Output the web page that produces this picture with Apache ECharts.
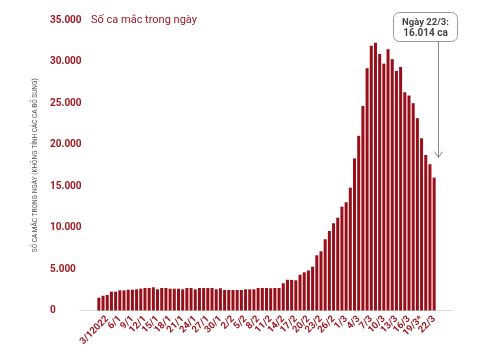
<!DOCTYPE html>
<html><head><meta charset="utf-8">
<script src="https://cdn.jsdelivr.net/npm/echarts@6/dist/echarts.min.js"></script>
<style>html,body{margin:0;padding:0;background:#fff}#c{width:478px;height:355px}</style>
</head><body><div id="c"></div>
<script>
const categories = [
 "1/1","2/1","3/12022","4/1","5/1","6/1","7/1","8/1","9/1","10/1",
 "11/1","12/1","13/1","14/1","15/1","16/1","17/1","18/1","19/1","20/1",
 "21/1","22/1","23/1","24/1","25/1","26/1","27/1","28/1","29/1","30/1","31/1",
 "1/2","2/2","3/2","4/2","5/2","6/2","7/2","8/2","9/2","10/2",
 "11/2","12/2","13/2","14/2","15/2","16/2","17/2","18/2","19/2","20/2",
 "21/2","22/2","23/2","24/2","25/2","26/2","27/2","28/2",
 "1/3","2/3","3/3","4/3","5/3","6/3","7/3","8/3","9/3","10/3",
 "11/3","12/3","13/3","14/3","15/3","16/3","17/3","18/3","19/3*","20/3","21/3","22/3"
];
const cases = [
 1540,1780,1870,2270,2270,2430,2430,2510,2510,2550,
 2630,2710,2710,2800,2550,2710,2710,2630,2630,2630,
 2550,2710,2710,2550,2710,2710,2710,2710,2550,2680,
 2470,2470,2470,2470,2470,2550,2550,2550,2710,2710,
 2710,2680,2710,2710,3280,3710,3680,3640,4310,4600,
 4820,5280,6650,7130,8580,9580,10510,11180,12510,13040,
 14800,18320,21050,24640,29190,31910,32260,30910,29740,31470,
 30290,28860,29340,26290,25900,24970,23170,20750,18740,17620,
 16014
];
const titleText = 'Số ca mắc trong ngày';
const yAxisName = 'SỐ CA MẮC TRONG NGÀY (KHÔNG TÍNH CÁC CA BỔ SUNG)';
const noteLines = ['Ngày 22/3:', '16.014 ca'];
const yMin = 0, yMax = 35000, yStep = 5000;
const firstLabel = 2, labelStep = 3;

const red = '#980f19', textRed = '#9e1b22';
const fmt = v => String(v).replace(/\B(?=(\d{3})+(?!\d))/g, '.');
const labelStyle = {rotate: 45, hideOverlap: false,
  color: textRed, fontSize: 9.5, fontWeight: 'bold', margin: 7, fontFamily: 'Roboto'};
// labels every 3rd day, split over two overlaid axes so ECharts does not drop any
const labelAxis = (phase, showLine) => ({
  type: 'category', data: categories, min: -4, max: 84, position: 'bottom', offset: 0,
  axisLine: showLine ? {lineStyle: {color: '#dddddd', width: 1}} : {show: false},
  axisTick: {show: false}, splitLine: {show: false},
  axisLabel: Object.assign({}, labelStyle, {
    interval: (i) => i >= firstLabel && (i - firstLabel) % (2 * labelStep) === phase * labelStep})
});
const chart = echarts.init(document.getElementById('c'), null, {renderer: 'canvas'});
chart.setOption({
  animation: false,
  title: {text: titleText, left: 86, top: 10,
    textStyle: {color: textRed, fontSize: 11, fontWeight: 'normal', fontFamily: 'Roboto'}},
  grid: {left: 80, right: 25, top: 20, bottom: 44.5},
  xAxis: [labelAxis(0, true), labelAxis(1, false)],
  yAxis: {
    type: 'value', min: yMin, max: yMax, interval: yStep,
    splitLine: {show: false}, axisLine: {show: false}, axisTick: {show: false},
    name: yAxisName, nameLocation: 'middle', nameRotate: 90, nameGap: 38,
    nameTextStyle: {color: '#555', fontSize: 6.5, fontFamily: 'Roboto'},
    axisLabel: {align: 'left', margin: 30, color: textRed, fontSize: 10, fontWeight: 'bold',
      fontFamily: 'Roboto', padding: [0, 0, 8, 0], formatter: fmt}
  },
  series: [{type: 'bar', xAxisIndex: 0, data: cases, barCategoryGap: '28%', itemStyle: {color: red}}]
});

const last = cases.length - 1;
const p = chart.convertToPixel({xAxisIndex: 0, yAxisIndex: 0}, [last, cases[last]]);
const ax = Math.round(p[0] + 4) + 0.5, tipY = p[1] - 20;
const boxW = 64, boxH = 29, boxX = ax - 45, boxY = 12.5;
chart.setOption({graphic: [
  {type: 'rect', shape: {x: boxX, y: boxY, width: boxW, height: boxH, r: 6},
   style: {fill: '#fff', stroke: '#999', lineWidth: 1}},
  {type: 'text', x: boxX + boxW / 2, y: boxY + 10, style: {text: noteLines[0], align: 'center',
   verticalAlign: 'middle', fill: '#444', font: 'bold 9.5px Roboto'}},
  {type: 'text', x: boxX + boxW / 2, y: boxY + 21, style: {text: noteLines[1], align: 'center',
   verticalAlign: 'middle', fill: '#444', font: 'bold 10px Roboto'}},
  {type: 'line', shape: {x1: ax, y1: boxY + boxH, x2: ax, y2: tipY}, style: {stroke: '#888', lineWidth: 1}},
  {type: 'polyline', shape: {points: [[ax - 4, tipY - 6], [ax, tipY], [ax + 4, tipY - 6]]},
   style: {stroke: '#888', fill: null, lineWidth: 1}}
]});
</script></body></html>
